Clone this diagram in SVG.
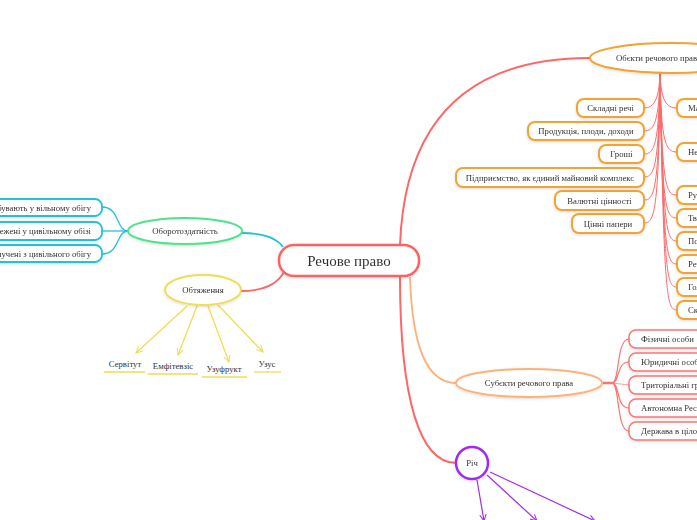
<svg xmlns="http://www.w3.org/2000/svg" width="697" height="520" viewBox="0 0 697 520">
<defs>
<filter id="sh" x="-20%" y="-40%" width="140%" height="180%">
<feDropShadow dx="0" dy="1" stdDeviation="1.5" flood-color="#000" flood-opacity="0.15"/>
</filter>
<marker id="ay" viewBox="0 0 10 10" refX="9" refY="5" markerWidth="8" markerHeight="8" orient="auto" markerUnits="userSpaceOnUse">
<polyline points="1,1 9,5 1,9" fill="none" stroke="#eedd55" stroke-width="1.3"/>
</marker>
<marker id="ap" viewBox="0 0 10 10" refX="9" refY="5" markerWidth="8" markerHeight="8" orient="auto" markerUnits="userSpaceOnUse">
<polyline points="1,1 9,5 1,9" fill="none" stroke="#a02cf2" stroke-width="1.3"/>
</marker>
</defs>
<style>
text{font-family:"Liberation Serif","Times New Roman",serif;fill:#333;font-size:8.7px}
.mid{text-anchor:middle}
.end{text-anchor:end}
.on{fill:#fff;stroke:#f4a232;stroke-width:2}
.sn{fill:#fff;stroke:#fc7474;stroke-width:1.5}
.tn{fill:#fff;stroke:#22c3d7;stroke-width:1.8}
.rc{fill:none;stroke:#fd6a6a;stroke-width:1}
</style>
<rect width="697" height="520" fill="#fff"/>

<g id="connectors" fill="none">
<path d="M400 245 C404 140,450 58,590 58" stroke="#fd6767" stroke-width="2"/>
<path d="M283 247 C278 240,266 233,242 233" stroke="#22c3d7" stroke-width="1.8"/>
<path d="M284 272 C278 283,265 291,241 291" stroke="#fd6767" stroke-width="1.8"/>
<path d="M410 277 C412 340,424 383,456 383" stroke="#fdb27e" stroke-width="1.8"/>
<path d="M400 277 C400 400,420 463,456 463" stroke="#fd6767" stroke-width="2"/>
<g class="rc">
<path d="M660 73 C659 100,654 108,644 108"/>
<path d="M660 73 C659 123,654 131,644 131"/>
<path d="M660 73 C659 146,654 154,644 154"/>
<path d="M660 73 C659 169,654 177,644 177"/>
<path d="M660 73 C659 192,654 200,644 200"/>
<path d="M660 73 C659 215,654 223,644 223"/>
<path d="M660 73 C661 100,666 108,677 108"/>
<path d="M660 73 C661 144,666 152,677 152"/>
<path d="M660 73 C662 187,666 195,677 195"/>
<path d="M660 73 C662 210,666 218,677 218"/>
<path d="M660 73 C663 233,667 241,677 241"/>
<path d="M660 73 C663 256,667 264,677 264"/>
<path d="M660 73 C664 279,667 287,677 287"/>
<path d="M660 73 C664 302,667 310,677 310"/>
</g>
<g stroke="#22c3d7" stroke-width="1.3">
<path d="M128 231 L102 231"/>
<path d="M128 231 C116 231,120 207,102 207"/>
<path d="M128 231 C116 231,120 254,102 254"/>
</g>
<g stroke="#fc7474" stroke-width="1.2">
<path d="M603 383 L614 383" stroke-width="2.5"/>
<path d="M612 383 L629 385" stroke="#fca0a0"/>
<path d="M612 383 C620 383,616 339,629 339"/>
<path d="M612 383 C620 383,616 362,629 362"/>
<path d="M612 383 C620 383,616 408,629 408"/>
<path d="M612 383 C620 383,616 431,629 431"/>
</g>
<g stroke="#eedd55" stroke-width="1.3" marker-end="url(#ay)">
<path d="M187 306 L136 353"/>
<path d="M197 306 L178 355"/>
<path d="M208 306 L229 362"/>
<path d="M218 305 L263 352"/>
</g>
<g stroke="#a02cf2" stroke-width="1.2" marker-end="url(#ap)">
<path d="M477 480 L484 521"/>
<path d="M487 475 L537 521"/>
<path d="M490 472 L595 521"/>
</g>
</g>

<g id="central" filter="url(#sh)">
<rect x="279" y="245" width="140" height="31" rx="15" fill="#fff" stroke="#fb6464" stroke-width="2.5"/>
<text x="349" y="266" class="mid" style="font-size:15px">Речове право</text>
</g>

<g id="obiekty" filter="url(#sh)">
<ellipse cx="671" cy="58" rx="81" ry="15" fill="#fff" stroke="#f4a232" stroke-width="2"/>
<text x="616" y="61">Обєкти речового права</text>
</g>
<g id="skladni" filter="url(#sh)"><rect x="577" y="99" width="67" height="18" rx="7" class="on"/><text x="610.5" y="111" class="mid">Складні речі</text></g>
<g id="produktsiia" filter="url(#sh)"><rect x="528" y="122" width="116" height="18" rx="7" class="on"/><text x="586" y="134" class="mid">Продукція, плоди, доходи</text></g>
<g id="hroshi" filter="url(#sh)"><rect x="599" y="145" width="45" height="18" rx="7" class="on"/><text x="621.5" y="157" class="mid">Гроші</text></g>
<g id="pidpryiemstvo" filter="url(#sh)"><rect x="456" y="168" width="188" height="19" rx="7" class="on"/><text x="550" y="180.5" class="mid">Підприємство, як єдиний майновий комплекс</text></g>
<g id="valiutni" filter="url(#sh)"><rect x="555" y="191" width="89" height="19" rx="7" class="on"/><text x="599.5" y="203.5" class="mid">Валютні цінності</text></g>
<g id="tsinni" filter="url(#sh)"><rect x="572" y="214" width="72" height="19" rx="7" class="on"/><text x="608" y="226.5" class="mid">Цінні папери</text></g>
<g id="maino" filter="url(#sh)"><rect x="677" y="99" width="100" height="18" rx="7" class="on"/><text x="688" y="111">Майно</text></g>
<g id="nerukhomi" filter="url(#sh)"><rect x="677" y="143" width="100" height="18" rx="7" class="on"/><text x="688" y="155">Нерухомі речі</text></g>
<g id="rukhomi" filter="url(#sh)"><rect x="677" y="186" width="100" height="18" rx="7" class="on"/><text x="688" y="198">Рухомі речі</text></g>
<g id="tvaryny" filter="url(#sh)"><rect x="677" y="209" width="100" height="18" rx="7" class="on"/><text x="688" y="221">Тварини</text></g>
<g id="podilni" filter="url(#sh)"><rect x="677" y="232" width="100" height="18" rx="7" class="on"/><text x="688" y="244">Подільні речі</text></g>
<g id="rechi" filter="url(#sh)"><rect x="677" y="255" width="100" height="18" rx="7" class="on"/><text x="688" y="267">Речі</text></g>
<g id="holovna" filter="url(#sh)"><rect x="677" y="278" width="100" height="18" rx="7" class="on"/><text x="688" y="290">Головна річ</text></g>
<g id="skladova" filter="url(#sh)"><rect x="677" y="301" width="100" height="18" rx="7" class="on"/><text x="688" y="313">Складова частина</text></g>

<g id="oborotozdatnist" filter="url(#sh)">
<ellipse cx="185" cy="231" rx="57" ry="13" fill="#fff" stroke="#4fe38c" stroke-width="2"/>
<text x="185" y="234" class="mid">Оборотоздатність</text>
</g>
<g id="vilnyi" filter="url(#sh)"><rect x="-100" y="199" width="202" height="17" rx="7" class="tn"/><text x="91" y="210.5" class="end">Перебувають у вільному обігу</text></g>
<g id="obmezheni" filter="url(#sh)"><rect x="-100" y="222" width="202" height="18" rx="7" class="tn"/><text x="91" y="234" class="end">Обмежені у цивільному обізі</text></g>
<g id="vylucheni" filter="url(#sh)"><rect x="-100" y="245" width="202" height="17" rx="7" class="tn"/><text x="91" y="256.5" class="end">Вилучені з цивільного обігу</text></g>

<g id="obtiazhennia" filter="url(#sh)">
<ellipse cx="203" cy="290" rx="38" ry="15" fill="#fff" stroke="#eedd55" stroke-width="2"/>
<text x="203" y="293" class="mid">Обтяження</text>
</g>
<g id="servitut"><text x="125" y="367" class="mid">Сервітут</text><line x1="104" y1="372" x2="145" y2="372" stroke="#eedd55" stroke-width="1.3"/></g>
<g id="emfitevzis"><text x="173" y="369" class="mid">Емфітевзіс</text><line x1="148" y1="374" x2="198" y2="374" stroke="#eedd55" stroke-width="1.3"/></g>
<g id="uzufrukt"><text x="224" y="372" class="mid">Узуфрукт</text><line x1="202" y1="377" x2="247" y2="377" stroke="#eedd55" stroke-width="1.3"/></g>
<g id="uzus"><text x="267" y="367" class="mid">Узус</text><line x1="254" y1="372" x2="281" y2="372" stroke="#eedd55" stroke-width="1.3"/></g>

<g id="subiekty" filter="url(#sh)">
<ellipse cx="529" cy="383" rx="73" ry="14" fill="#fff" stroke="#fdb27e" stroke-width="2"/>
<text x="529" y="386" class="mid">Субєкти речового права</text>
</g>
<g id="fizychni" filter="url(#sh)"><rect x="629" y="330" width="120" height="18" rx="7" class="sn"/><text x="641" y="342">Фізичні особи</text></g>
<g id="yurydychni" filter="url(#sh)"><rect x="629" y="353" width="120" height="18" rx="7" class="sn"/><text x="641" y="365">Юридичні особи</text></g>
<g id="terytorialni" filter="url(#sh)"><rect x="629" y="376" width="120" height="18" rx="7" class="sn"/><text x="641" y="388">Триторіальні громади</text></g>
<g id="avtonomna" filter="url(#sh)"><rect x="629" y="399" width="120" height="18" rx="7" class="sn"/><text x="641" y="411">Автономна Республіка Крим</text></g>
<g id="derzhava" filter="url(#sh)"><rect x="629" y="422" width="120" height="18" rx="7" class="sn"/><text x="641" y="434">Держава в цілому</text></g>

<g id="rich" filter="url(#sh)">
<circle cx="472" cy="463" r="16" fill="#fff" stroke="#a02cf2" stroke-width="2.5"/>
<text x="472" y="466" class="mid">Річ</text>
</g>
</svg>
